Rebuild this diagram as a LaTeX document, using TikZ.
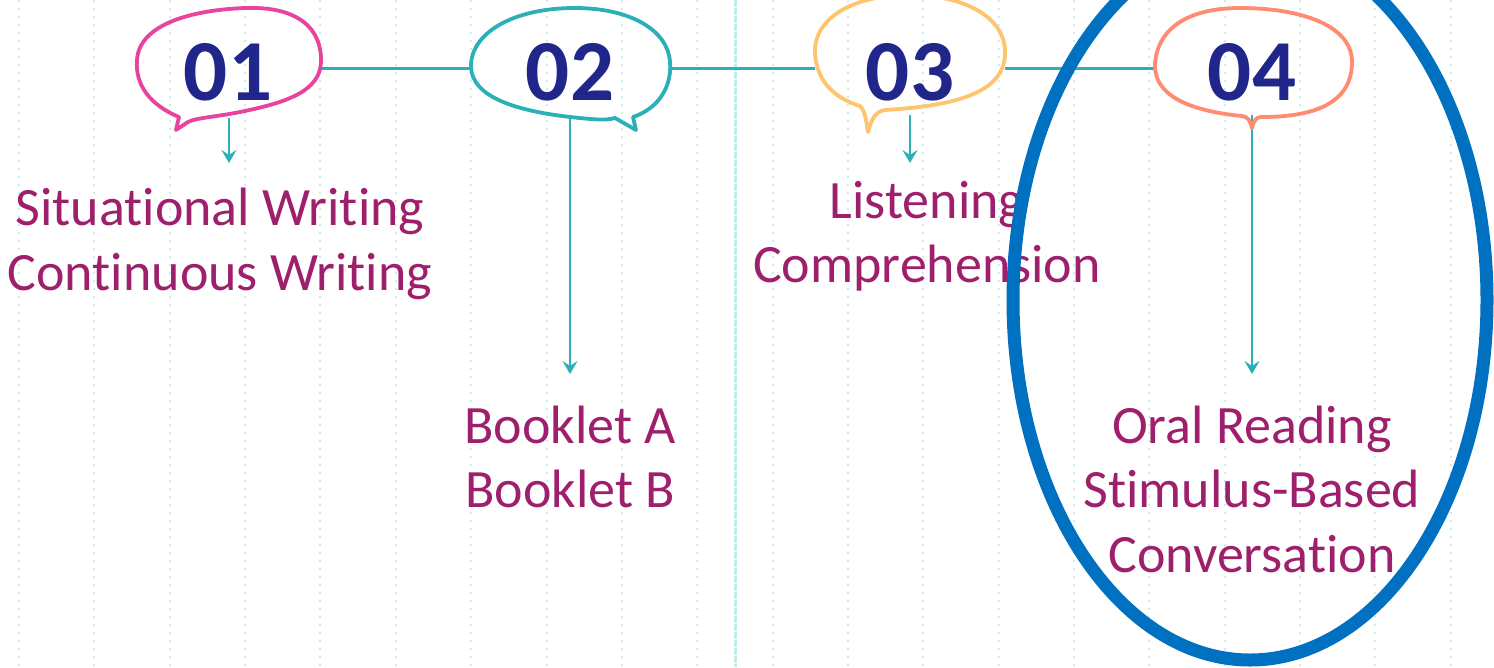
\documentclass[tikz,border=0pt]{standalone}
\usepackage{fontspec}
\setmainfont{Carlito}[Ligatures={NoCommon,NoContextual},RawFeature={-liga;-dlig}]
\usetikzlibrary{arrows.meta}
\definecolor{navyc}{HTML}{21268A}
\definecolor{purc}{HTML}{9E1F6B}
\definecolor{tealc}{HTML}{2BB0B8}
\definecolor{pinkc}{HTML}{E8449F}
\definecolor{yelc}{HTML}{FFC46E}
\definecolor{salc}{HTML}{FF8B70}
\definecolor{bluec}{HTML}{0070C0}
\definecolor{dotc}{HTML}{C6EFEE}
\definecolor{vlinec}{HTML}{C0ECEC}
\newcommand{\nlg}{\kern0pt{}}
\begin{document}
\begin{tikzpicture}[x=1pt,y=-1pt,
  dotl/.style={dotc,line width=2pt,dash pattern=on 2pt off 6pt},
  bub/.style={line width=3.8pt,line join=round,line cap=round},
  conn/.style={tealc,line width=3pt},
  arr/.style={tealc,line width=2pt,-{Stealth[length=13pt,width=15pt,inset=5pt]}},
  num/.style={text=navyc,font=\fontsize{87}{90}\selectfont\bfseries,anchor=base,inner sep=0pt},
  lbl/.style={text=purc,font=\fontsize{54}{65}\selectfont,anchor=base,inner sep=0pt}]
\useasboundingbox (0,0) rectangle (1494,667);
\fill[white] (0,0) rectangle (1494,667);
% background dotted lines
\foreach \i in {0,...,19}{
  \draw[dotl] ({19+75.36*\i},0) -- ({19+75.36*\i},667);
}
\draw[vlinec,line width=3pt,dash pattern=on 7pt off 1pt] (735,0) -- (735,667);
% bubble anchor coordinates
\coordinate (b1r) at (322,68);
\coordinate (b2l) at (470,68);
\coordinate (b2r) at (670,68);
\coordinate (b3l) at (815,68);
\coordinate (b3r) at (1005,68);
\coordinate (b4l) at (1155,68);
\coordinate (b1s) at (229,118);
\coordinate (b2s) at (570,119);
\coordinate (b3s) at (910,115);
\coordinate (b4s) at (1252,115);
\coordinate (e1) at (229,163);
\coordinate (e2) at (570,374);
\coordinate (e3) at (910,163);
\coordinate (e4) at (1252,374);
% connectors
\draw[conn] (b1r) -- (b2l);
\draw[conn] (b2r) -- (b3l);
\draw[conn] (b3r) -- (b4l);
% arrows
\draw[arr] (b1s) -- (e1);
\draw[arr] (b2s) -- (e2);
\draw[arr] (b3s) -- (e3);
\draw[arr] (b4s) -- (e4);
% bubbles
\draw[bub,pinkc] (176,130) -- (179,117)
 .. controls (150,105) and (135,85) .. (137,60)
 .. controls (139,25) and (190,10) .. (245,8)
 .. controls (300,6) and (322,30) .. (321,62)
 .. controls (320,90) and (290,102) .. (240,112)
 .. controls (215,117) and (195,118) .. (188,122)
 -- cycle;
\draw[bub,tealc] (636,130) -- (633,117)
 .. controls (660,108) and (672,85) .. (670,62)
 .. controls (668,30) and (630,8) .. (575,8)
 .. controls (510,8) and (470,35) .. (471,67)
 .. controls (472,95) and (510,110) .. (570,117)
 .. controls (590,119) and (605,121) .. (615,118)
 -- cycle;
\draw[bub,yelc] (868,132) .. controls (872,118) and (875,112) .. (885,110)
 .. controls (950,106) and (1003,95) .. (1005,55)
 .. controls (1007,15) and (960,-5) .. (910,-5)
 .. controls (850,-5) and (814,20) .. (815,52)
 .. controls (816,85) and (840,100) .. (860,106)
 .. controls (866,112) and (866,122) .. cycle;
\draw[bub,salc] (1252,128) .. controls (1254,120) and (1256,117) .. (1262,117)
 .. controls (1320,117) and (1352,100) .. (1352,62)
 .. controls (1352,25) and (1300,8) .. (1240,8)
 .. controls (1180,8) and (1155,35) .. (1155,67)
 .. controls (1156,100) and (1200,112) .. (1242,116)
 .. controls (1248,117) and (1250,120) .. cycle;
% numbers
\node[num] (n1) at (228,100) {01};
\node[num] (n2) at (570,100) {02};
\node[num] (n3) at (910,100) {03};
\node[num] (n4) at (1252,100) {04};
% labels
\node[lbl] (t1a) at (220,225) {Sit\nlg uat\nlg ional Writ\nlg ing};
\node[lbl] (t1b) at (220,290) {Cont\nlg inuous Writ\nlg ing};
\node[lbl] (t2a) at (570,443) {Booklet A};
\node[lbl] (t2b) at (570,507) {Booklet B};
\node[lbl] (t3a) at (927,218) {Listening};
\node[lbl] (t3b) at (927,282) {Comprehension};
\node[lbl] (t4a) at (1252,443) {Oral Reading};
\node[lbl] (t4b) at (1252,507) {St\nlg imulus-Based};
\node[lbl] (t4c) at (1252,572) {Conversat\nlg ion};
% highlight ellipse
\draw[bluec,line width=13pt] (1250,300) ellipse [x radius=237, y radius=360];
\end{tikzpicture}
\end{document}
